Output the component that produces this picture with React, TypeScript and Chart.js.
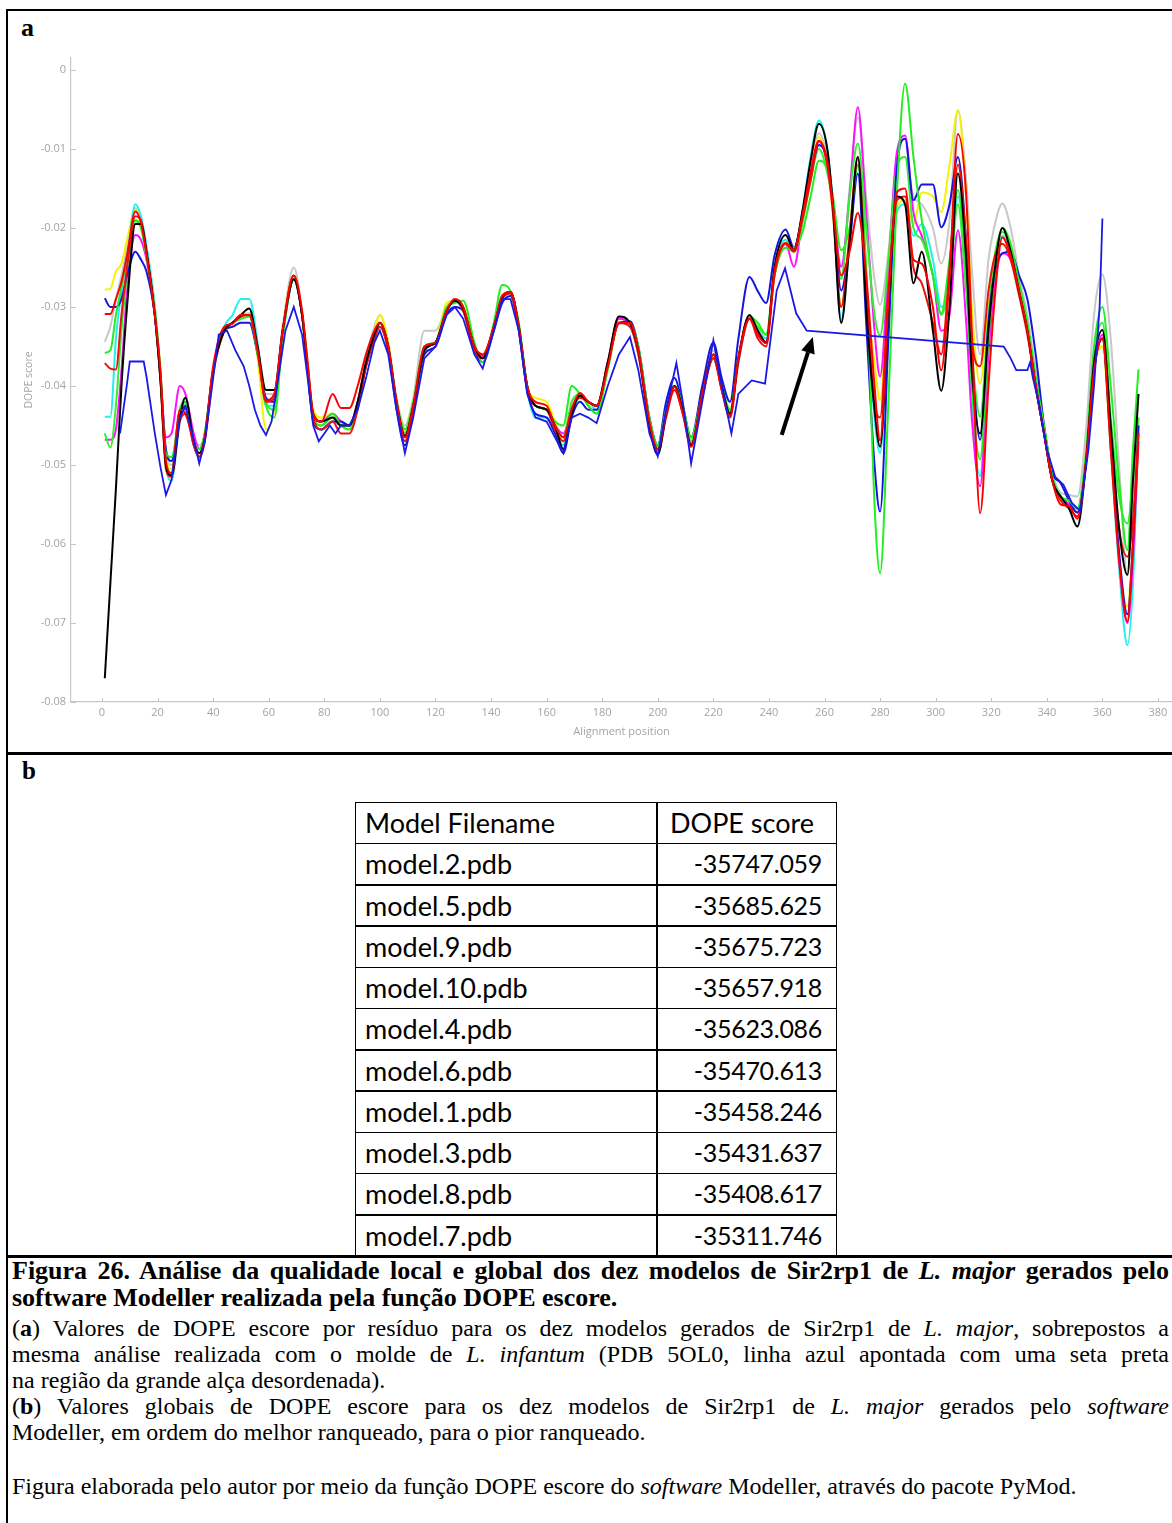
import React, { useEffect, useRef } from "react";
import { Chart, registerables } from "chart.js";

Chart.register(...registerables);

// ---------------- DATA ----------------
const POS = [1,3,5,7,9,12,14,16,19,21,23,25,28,30,33,35,37,40,44,47,50,53,56,59,62,65,69,72,74,76,79,83,86,89,92,95,98,100,103,106,109,112,116,120,124,127,130,134,137,141,144,147,150,153,156,160,163,166,169,172,175,178,182,186,190,193,197,200,203,206,209,212,216,220,223,226,229,233,236,239,242,246,249,252,255,258,261,263,266,269,272,275,278,280,283,286,289,292,295,299,302,305,308,311,313,316,319,321,324,327,330,333,336,339,342,345,348,351,354,357,360,363,366,369,371,373];

const BLACK = [-.077,-.065,-.053,-.040,-.030,-.0195,-.0195,-.023,-.031,-.039,
-.050,-.0513,-.044,-.0415,-.047,-.0485,-.0465,-.038,-.033,-.032,
-.031,-.0302,-.035,-.0405,-.0405,-.033,-.0265,-.031,-.0375,-.0435,
-.0445,-.044,-.045,-.045,-.042,-.037,-.0335,-.032,-.035,-.042,
-.0463,-.0425,-.0355,-.0345,-.0305,-.0292,-.0302,-.035,-.0365,-.0325,
-.0288,-.0281,-.0325,-.040,-.0425,-.043,-.045,-.048,-.0435,-.0412,
-.042,-.0425,-.037,-.0312,-.032,-.0355,-.045,-.0487,-.0435,-.040,
-.043,-.0475,-.041,-.036,-.040,-.0435,-.0365,-.031,-.033,-.0345,
-.025,-.0209,-.0228,-.018,-.0115,-.0068,-.010,-.017,-.032,-.022,
-.011,-.030,-.043,-.0477,-.030,-.016,-.017,-.027,-.023,-.033,
-.0406,-.030,-.0131,-.024,-.038,-.046,-.033,-.026,-.020,-.023,
-.028,-.033,-.040,-.046,-.052,-.054,-.0555,-.0578,-.050,-.037,
-.0329,-.045,-.058,-.0639,-.052,-.041];

const RED = [-.0309,-.0309,-.029,-.0268,-.0235,-.0179,-.0193,-.0232,-.031,-.038,
-.0495,-.051,-.043,-.0435,-.047,-.049,-.0465,-.0375,-.0325,-.0321,
-.031,-.031,-.0355,-.0418,-.041,-.033,-.026,-.0305,-.037,-.0435,
-.0445,-.041,-.0428,-.0428,-.040,-.036,-.033,-.032,-.035,-.042,
-.0465,-.0425,-.035,-.0345,-.0305,-.029,-.030,-.035,-.036,-.0325,
-.0286,-.0281,-.0325,-.040,-.042,-.0425,-.045,-.0465,-.043,-.0409,
-.042,-.0425,-.0375,-.0321,-.032,-.0355,-.0445,-.048,-.0435,-.0401,
-.0435,-.0477,-.041,-.036,-.0405,-.0438,-.0365,-.0315,-.0335,-.0346,
-.0255,-.0219,-.0228,-.0185,-.013,-.009,-.0115,-.017,-.026,-.023,
-.0181,-.026,-.040,-.0469,-.029,-.0155,-.015,-.024,-.0245,-.030,
-.038,-.026,-.0081,-.016,-.033,-.0561,-.040,-.030,-.0212,-.0235,
-.028,-.033,-.040,-.046,-.052,-.055,-.0552,-.0568,-.050,-.038,
-.034,-.048,-.062,-.0698,-.060,-.047];

const GREEN_A = [-.0358,-.0355,-.031,-.0275,-.0235,-.0191,-.020,-.0235,-.0305,-.038,
-.0485,-.049,-.0435,-.042,-.047,-.048,-.046,-.038,-.033,-.032,
-.0315,-.0312,-.036,-.0425,-.044,-.034,-.0265,-.031,-.038,-.044,
-.045,-.0435,-.045,-.0455,-.0425,-.037,-.0335,-.032,-.035,-.042,
-.0455,-.042,-.035,-.0345,-.030,-.0295,-.0292,-.0345,-.037,-.032,
-.0272,-.028,-.032,-.040,-.0425,-.043,-.0445,-.045,-.040,-.041,
-.0425,-.0435,-.038,-.032,-.0321,-.035,-.044,-.0475,-.043,-.040,
-.0425,-.0465,-.041,-.0365,-.040,-.043,-.0365,-.0312,-.032,-.0335,
-.026,-.0225,-.0225,-.0206,-.016,-.0115,-.0125,-.016,-.0228,-.020,
-.012,-.025,-.055,-.0637,-.042,-.016,-.0017,-.011,-.019,-.026,
-.0308,-.024,-.0152,-.026,-.040,-.0493,-.034,-.026,-.020,-.022,
-.027,-.032,-.039,-.045,-.0515,-.054,-.0545,-.0555,-.049,-.035,
-.030,-.040,-.052,-.0608,-.048,-.0379];

const BLUE = [-.0289,-.030,-.030,-.029,-.026,-.023,-.024,-.0255,-.031,-.0385,
-.048,-.0495,-.044,-.0425,-.0475,-.049,-.0465,-.038,-.033,-.0325,
-.032,-.032,-.036,-.0415,-.042,-.0335,-.0265,-.031,-.038,-.0445,
-.0455,-.0445,-.0445,-.045,-.0425,-.0375,-.034,-.0325,-.0355,-.043,
-.0475,-.043,-.036,-.035,-.031,-.030,-.0305,-.0355,-.037,-.033,
-.0295,-.0286,-.033,-.0405,-.0435,-.044,-.046,-.0485,-.044,-.042,
-.043,-.043,-.0375,-.032,-.0318,-.035,-.044,-.0475,-.042,-.039,
-.0425,-.0465,-.040,-.0345,-.039,-.042,-.034,-.0262,-.028,-.0295,
-.0235,-.0202,-.0225,-.0185,-.0135,-.0095,-.0115,-.017,-.0279,-.022,
-.0131,-.032,-.050,-.0559,-.034,-.0125,-.0087,-.0165,-.0145,-.0145,
-.0199,-.017,-.011,-.022,-.036,-.0468,-.032,-.026,-.0232,-.023,
-.026,-.029,-.036,-.045,-.051,-.0523,-.0545,-.056,-.050,-.038,
-.034,-.047,-.061,-.0689,-.060,-.045];

const CYAN = [-.0439,-.0439,-.034,-.028,-.024,-.017,-.0185,-.0222,-.030,-.0385,
-.050,-.052,-.0445,-.042,-.047,-.0485,-.0465,-.038,-.0325,-.031,
-.029,-.029,-.0345,-.0425,-.0425,-.0335,-.0265,-.031,-.038,-.0445,
-.0455,-.0445,-.045,-.045,-.0425,-.0375,-.034,-.032,-.035,-.0425,
-.047,-.043,-.0355,-.0345,-.0305,-.0293,-.0305,-.0355,-.0365,-.033,
-.029,-.0283,-.0325,-.0405,-.044,-.044,-.0455,-.0475,-.0435,-.0415,
-.042,-.043,-.0375,-.032,-.0325,-.036,-.0445,-.048,-.043,-.0405,
-.043,-.047,-.041,-.0365,-.040,-.0435,-.037,-.0315,-.033,-.034,
-.025,-.0215,-.023,-.018,-.011,-.0064,-.010,-.017,-.0317,-.022,
-.012,-.030,-.044,-.0485,-.031,-.018,-.017,-.021,-.0195,-.024,
-.030,-.027,-.016,-.026,-.042,-.0514,-.035,-.027,-.021,-.0235,
-.028,-.033,-.040,-.046,-.052,-.054,-.055,-.0555,-.050,-.038,
-.034,-.048,-.063,-.0728,-.065,-.045];

const MAGENTA = [-.0468,-.0468,-.0455,-.038,-.028,-.0209,-.0215,-.024,-.031,-.039,
-.0465,-.046,-.040,-.041,-.046,-.048,-.046,-.038,-.033,-.032,
-.031,-.031,-.0355,-.042,-.042,-.0335,-.0265,-.031,-.038,-.044,
-.0445,-.0435,-.0445,-.045,-.042,-.037,-.0335,-.032,-.035,-.042,
-.046,-.0425,-.0352,-.0345,-.0305,-.0292,-.0302,-.035,-.0362,-.0325,
-.029,-.0281,-.0325,-.040,-.0425,-.043,-.045,-.046,-.043,-.0412,
-.042,-.0425,-.037,-.0315,-.032,-.0355,-.0445,-.0482,-.0435,-.040,
-.043,-.0473,-.041,-.0365,-.040,-.0435,-.0365,-.0312,-.033,-.0345,
-.026,-.022,-.0249,-.019,-.013,-.009,-.012,-.017,-.0249,-.016,
-.0047,-.018,-.033,-.0388,-.025,-.0105,-.0083,-.018,-.021,-.026,
-.033,-.031,-.0203,-.032,-.044,-.0527,-.036,-.028,-.0232,-.024,
-.028,-.033,-.040,-.046,-.052,-.054,-.055,-.056,-.050,-.038,
-.0335,-.047,-.062,-.070,-.062,-.046];

const YELLOW = [-.0278,-.0277,-.0255,-.0245,-.0215,-.0178,-.019,-.0225,-.030,-.038,
-.049,-.0505,-.0435,-.042,-.047,-.0485,-.0465,-.038,-.033,-.032,
-.031,-.031,-.0365,-.0455,-.043,-.033,-.026,-.031,-.0375,-.043,
-.044,-.0435,-.045,-.0455,-.042,-.037,-.033,-.031,-.0345,-.042,
-.0455,-.042,-.0355,-.0345,-.0295,-.0292,-.030,-.035,-.036,-.0325,
-.029,-.0281,-.0325,-.040,-.0415,-.042,-.0445,-.047,-.043,-.0412,
-.042,-.0425,-.037,-.0315,-.032,-.0355,-.0445,-.048,-.0435,-.040,
-.043,-.047,-.041,-.0365,-.040,-.0435,-.0365,-.0312,-.033,-.0345,
-.0255,-.0218,-.023,-.0185,-.013,-.0085,-.012,-.018,-.030,-.021,
-.012,-.028,-.037,-.0418,-.026,-.0175,-.0165,-.0195,-.0155,-.016,
-.018,-.012,-.0051,-.016,-.030,-.0397,-.029,-.024,-.021,-.024,
-.028,-.033,-.040,-.046,-.052,-.0545,-.055,-.056,-.050,-.038,
-.035,-.048,-.062,-.0679,-.060,-.046];

const GREY = [-.0344,-.0325,-.029,-.026,-.0225,-.0175,-.019,-.0225,-.030,-.038,
-.0485,-.050,-.043,-.0415,-.0465,-.0475,-.046,-.038,-.033,-.032,
-.031,-.0308,-.0355,-.041,-.041,-.0325,-.025,-.0305,-.037,-.0435,
-.0445,-.0435,-.0445,-.045,-.042,-.037,-.0325,-.031,-.0345,-.0415,
-.045,-.0415,-.033,-.033,-.030,-.0292,-.0302,-.035,-.0362,-.0325,
-.029,-.0283,-.0325,-.040,-.0425,-.043,-.0445,-.0465,-.0425,-.041,
-.042,-.0425,-.037,-.0315,-.032,-.0355,-.0445,-.048,-.0435,-.040,
-.043,-.047,-.0405,-.0355,-.040,-.0435,-.0365,-.0312,-.0325,-.034,
-.0255,-.022,-.023,-.018,-.012,-.008,-.011,-.016,-.026,-.015,
-.006,-.016,-.0265,-.0297,-.023,-.012,-.011,-.016,-.017,-.020,
-.0245,-.019,-.0051,-.014,-.025,-.036,-.024,-.020,-.0169,-.020,
-.026,-.031,-.038,-.045,-.051,-.0535,-.0538,-.054,-.046,-.031,
-.0259,-.034,-.050,-.064,-.055,-.044];

const RED_B = [-.0371,-.0378,-.0379,-.031,-.025,-.0185,-.019,-.023,-.031,-.039,
-.0505,-.0515,-.0445,-.0435,-.0475,-.049,-.047,-.0385,-.033,-.032,
-.0312,-.031,-.0355,-.042,-.0415,-.033,-.026,-.031,-.038,-.044,
-.0455,-.0445,-.046,-.046,-.043,-.0375,-.034,-.0325,-.0355,-.0425,
-.047,-.043,-.0355,-.0345,-.0305,-.0292,-.0305,-.0355,-.0365,-.0325,
-.029,-.0283,-.033,-.0405,-.0425,-.043,-.0455,-.047,-.043,-.0415,
-.042,-.0425,-.0375,-.032,-.0325,-.036,-.045,-.0485,-.044,-.0405,
-.0435,-.0475,-.0415,-.0365,-.0405,-.044,-.037,-.0315,-.034,-.035,
-.026,-.022,-.023,-.019,-.014,-.009,-.012,-.018,-.030,-.021,
-.011,-.028,-.042,-.044,-.028,-.0165,-.016,-.025,-.027,-.032,
-.036,-.025,-.012,-.022,-.034,-.0375,-.028,-.024,-.022,-.024,
-.0285,-.0335,-.040,-.046,-.052,-.0545,-.0555,-.0565,-.050,-.038,
-.034,-.046,-.058,-.0616,-.057,-.046];

const GREEN_B = [-.046,-.0478,-.0425,-.033,-.026,-.019,-.0198,-.0235,-.031,-.039,
-.049,-.0495,-.043,-.042,-.047,-.048,-.046,-.038,-.033,-.032,
-.0312,-.031,-.0355,-.042,-.043,-.0335,-.0265,-.031,-.038,-.044,
-.045,-.044,-.045,-.045,-.0425,-.037,-.0335,-.032,-.035,-.042,
-.046,-.0425,-.035,-.0345,-.0305,-.0292,-.030,-.035,-.0365,-.0325,
-.0285,-.0281,-.0325,-.040,-.0425,-.043,-.045,-.0465,-.042,-.041,
-.0425,-.0435,-.0375,-.032,-.032,-.0355,-.0445,-.0478,-.0435,-.040,
-.043,-.047,-.041,-.0365,-.040,-.0435,-.0365,-.0315,-.0325,-.0335,
-.026,-.0225,-.023,-.0195,-.014,-.010,-.013,-.017,-.0265,-.016,
-.0093,-.020,-.031,-.0336,-.024,-.0125,-.011,-.020,-.0215,-.026,
-.031,-.027,-.017,-.028,-.036,-.0439,-.031,-.024,-.0205,-.0225,
-.027,-.032,-.039,-.0455,-.0515,-.054,-.0545,-.0555,-.049,-.036,
-.032,-.044,-.054,-.0574,-.052,-.044];

// Template (PDB 5OL0) – own positions
const TPL_POS = [6.5,9,10,15,16,19,21,23,25,28,30,33,35,37,40,42,45,48,51,53,55,57,59,61,63,66,69,72,74,76,78,80,82,84,86,89,92,95,98,100,103,106,109,112,116,120,124,127,130,134,137,141,144,147,150,153,156,160,163,166,169,172,175,178,182,186,190,193,197,200,203,206.7,209,212,216,220,223,226.5,229,233.8,238.6,242.8,245.8,249.8,253.6,324.5,327,329,333,334,335,337,340,343,346,349,352,355,357,359,360];
const TPL_VAL = [-.046,-.0397,-.0369,-.0369,-.0388,-.046,-.0502,-.0538,-.0519,-.044,-.0426,-.0468,-.0498,-.047,-.039,-.0335,-.033,-.0355,-.0375,-.040,-.043,-.045,-.0462,-.0445,-.040,-.033,-.030,-.0335,-.039,-.045,-.047,-.046,-.045,-.046,-.045,-.045,-.043,-.039,-.0345,-.033,-.036,-.043,-.0485,-.044,-.0365,-.035,-.031,-.030,-.0315,-.036,-.0378,-.033,-.029,-.029,-.033,-.041,-.044,-.0445,-.0465,-.0485,-.044,-.0435,-.044,-.0447,-.040,-.036,-.0338,-.038,-.046,-.0489,-.043,-.0371,-.042,-.0498,-.042,-.0342,-.040,-.046,-.041,-.0393,-.0397,-.0279,-.0251,-.0308,-.033,-.035,-.0365,-.038,-.038,-.037,-.039,-.042,-.048,-.0515,-.0525,-.0548,-.0558,-.048,-.040,-.030,-.0188];

const X_TICK_STEP = 20;
const Y_TICK_STEP = 0.01;
const ARROW_FROM = [244.6, -0.0462];
const ARROW_TO = [255.8, -0.0338];

const TABLE_HEAD = ["Model Filename", "DOPE score"];
const TABLE_FILES = ["model.2.pdb","model.5.pdb","model.9.pdb","model.10.pdb","model.4.pdb","model.6.pdb","model.1.pdb","model.3.pdb","model.8.pdb","model.7.pdb"];
const TABLE_SCORES = ["-35747.059","-35685.625","-35675.723","-35657.918","-35623.086","-35470.613","-35458.246","-35431.637","-35408.617","-35311.746"];

// ---------------- CHART ----------------
const insideTicks = {
  id: "insideTicks",
  beforeDatasetsDraw(chart: any) {
    const { ctx, scales } = chart;
    const x = scales.x, y = scales.y;
    ctx.save();
    ctx.strokeStyle = "#c4c4c4";
    ctx.lineWidth = 1;
    x.ticks.forEach((t: any) => {
      const px = Math.round(x.getPixelForValue(t.value)) + 0.5;
      ctx.beginPath(); ctx.moveTo(px, x.top); ctx.lineTo(px, x.top - 4); ctx.stroke();
    });
    y.ticks.forEach((t: any) => {
      const py = Math.round(y.getPixelForValue(t.value)) + 0.5;
      ctx.beginPath(); ctx.moveTo(y.right, py); ctx.lineTo(y.right + 5, py); ctx.stroke();
    });
    ctx.restore();
  },
};

const arrowPlugin = {
  id: "arrowPlugin",
  afterDatasetsDraw(chart: any) {
    const { ctx, scales } = chart;
    const x0 = scales.x.getPixelForValue(ARROW_FROM[0]);
    const y0 = scales.y.getPixelForValue(ARROW_FROM[1]);
    const x1 = scales.x.getPixelForValue(ARROW_TO[0]);
    const y1 = scales.y.getPixelForValue(ARROW_TO[1]);
    const ang = Math.atan2(y1 - y0, x1 - x0);
    const headLen = 16, headW = 7;
    const bx = x1 - headLen * Math.cos(ang), by = y1 - headLen * Math.sin(ang);
    ctx.save();
    ctx.strokeStyle = "#000"; ctx.fillStyle = "#000"; ctx.lineWidth = 4;
    ctx.beginPath(); ctx.moveTo(x0, y0); ctx.lineTo(bx, by); ctx.stroke();
    ctx.beginPath();
    ctx.moveTo(x1, y1);
    ctx.lineTo(bx + headW * Math.sin(ang), by - headW * Math.cos(ang));
    ctx.lineTo(bx - headW * Math.sin(ang), by + headW * Math.cos(ang));
    ctx.closePath(); ctx.fill();
    ctx.restore();
  },
};

function DopeChart() {
  const ref = useRef<HTMLCanvasElement | null>(null);
  useEffect(() => {
    const canvas = ref.current;
    if (!canvas) return;
    const models = [
      { label: "red 1", color: "#ff0000", values: RED },
      { label: "black", color: "#000000", values: BLACK },
      { label: "red 2", color: "#f01010", values: RED_B },
      { label: "green 1", color: "#22ee22", values: GREEN_A },
      { label: "blue", color: "#1515e0", values: BLUE },
      { label: "green 2", color: "#33ee33", values: GREEN_B },
      { label: "magenta", color: "#ff10ff", values: MAGENTA },
      { label: "cyan", color: "#20f0f0", values: CYAN },
      { label: "yellow", color: "#f4f400", values: YELLOW },
      { label: "grey", color: "#c8c8c8", values: GREY },
    ];
    const datasets: any[] = [
      {
        label: "template 5OL0",
        data: TPL_POS.map((p, i) => ({ x: p, y: TPL_VAL[i] })),
        borderColor: "#1a1ae6",
        borderWidth: 1.8,
        pointRadius: 0,
        tension: 0,
      },
      ...models.map((m) => ({
        label: m.label,
        data: POS.map((p, i) => ({ x: p, y: m.values[i] })),
        borderColor: m.color,
        borderWidth: 2,
        pointRadius: 0,
        cubicInterpolationMode: "monotone",
      })),
    ];
    const tickFont = { family: "'Open Sans', 'DejaVu Sans', sans-serif", size: 11 };
    const chart = new Chart(canvas, {
      type: "line",
      data: { datasets },
      options: {
        animation: false,
        responsive: false,
        maintainAspectRatio: false,
        layout: { padding: { top: 46, right: 0, left: 0, bottom: 0 } },
        plugins: { legend: { display: false }, tooltip: { enabled: false } },
        scales: {
          x: {
            type: "linear",
            min: -11.16,
            max: 385.05,
            grid: { display: false, drawTicks: false },
            border: { display: true, color: "#c8c8c8", width: 1.2 },
            ticks: {
              stepSize: X_TICK_STEP,
              includeBounds: false,
              autoSkip: false,
              maxRotation: 0,
              padding: 4,
              color: "#a4a4a4",
              font: tickFont,
            },
            title: {
              display: true,
              text: "Alignment position",
              color: "#a4a4a4",
              font: { family: "'Open Sans', 'DejaVu Sans', sans-serif", size: 11 },
              padding: { top: 0, bottom: 14 },
            },
            afterFit: (s: any) => { s.height = 50; },
          },
          y: {
            type: "linear",
            min: -0.08,
            max: 0.001519,
            grid: { display: false, drawTicks: false },
            border: { display: true, color: "#c8c8c8", width: 1.2 },
            ticks: {
              stepSize: Y_TICK_STEP,
              includeBounds: false,
              padding: 5,
              color: "#a4a4a4",
              font: tickFont,
              callback: (v: any) => String(Math.round(Number(v) * 100) / 100),
            },
            title: {
              display: true,
              text: "DOPE score",
              color: "#a4a4a4",
              font: { family: "'Open Sans', 'DejaVu Sans', sans-serif", size: 10.5 },
              padding: { top: 14, bottom: 0 },
            },
            afterFit: (s: any) => { s.width = 62; },
          },
        },
      } as any,
      plugins: [insideTicks, arrowPlugin],
    });
    return () => chart.destroy();
  }, []);
  return (
    <canvas
      ref={ref}
      width={1163}
      height={740}
      style={{ position: "absolute", left: 9, top: 12, width: 1163, height: 740 }}
    />
  );
}

// ---------------- PAGE ----------------
const ROW_H = 41.27;
const serif = "'Liberation Serif', 'Times New Roman', serif";
const J: React.CSSProperties = { textAlign: "justify", textAlignLast: "justify" } as any;

function DopeTable() {
  const rows = [[TABLE_HEAD[0], TABLE_HEAD[1]], ...TABLE_FILES.map((f, i) => [f, TABLE_SCORES[i]])];
  return (
    <div
      style={{
        position: "absolute", left: 355, top: 802, width: 482, height: ROW_H * 11,
        border: "1.5px solid #000", boxSizing: "border-box",
        fontFamily: "Lato, 'Open Sans', sans-serif", fontSize: 27, color: "#000",
      }}
    >
      <div style={{ position: "absolute", left: 300, top: 0, width: 1.5, height: "100%", background: "#000" }} />
      {rows.map((r, i) => (
        <React.Fragment key={i}>
          {i > 0 && (
            <div style={{ position: "absolute", left: 0, right: 0, top: i * ROW_H - 1.5, height: 1.5, background: "#000" }} />
          )}
          <div style={{ position: "absolute", left: 9, top: i * ROW_H - 1, height: ROW_H, lineHeight: ROW_H + "px", whiteSpace: "nowrap" }}>
            {r[0]}
          </div>
          <div
            style={{
              position: "absolute",
              top: i * ROW_H - 1,
              height: ROW_H,
              lineHeight: ROW_H + "px",
              whiteSpace: "nowrap",
              ...(i === 0 ? { left: 314 } : { right: 14, fontSize: 25, letterSpacing: "-0.3px" }),
            }}
          >
            {r[1]}
          </div>
        </React.Fragment>
      ))}
    </div>
  );
}

export default function App() {
  return (
    <div
      style={{
        position: "absolute", left: 0, top: 0, width: 1172, height: 1523,
        overflow: "hidden", background: "#fff", fontFamily: serif, color: "#000",
      }}
    >
      {/* outer frame */}
      <div style={{ position: "absolute", left: 6, top: 9, width: 1200, height: 1600, border: "2px solid #000" }} />
      <div style={{ position: "absolute", left: 6, top: 752, width: 1200, height: 3, background: "#000" }} />
      <div style={{ position: "absolute", left: 6, top: 1255, width: 1200, height: 3, background: "#000" }} />

      {/* panel labels */}
      <div style={{ position: "absolute", left: 21, top: 15, fontSize: 26, lineHeight: "26px", fontWeight: "bold" }}>a</div>
      <div style={{ position: "absolute", left: 22, top: 758, fontSize: 25, lineHeight: "25px", fontWeight: "bold" }}>b</div>

      <DopeChart />
      <DopeTable />

      {/* caption title */}
      <div style={{ position: "absolute", left: 12, top: 1257, width: 1157, fontSize: 26, lineHeight: "27px", fontWeight: "bold" }}>
        <div style={J}>
          Figura 26. Análise da qualidade local e global dos dez modelos de Sir2rp1 de <i>L. major</i> gerados pelo
        </div>
        <div>software Modeller realizada pela função DOPE escore.</div>
      </div>

      {/* caption body */}
      <div style={{ position: "absolute", left: 12, top: 1315, width: 1157, fontSize: 24, lineHeight: "26px" }}>
        <div style={J}>
          (<b>a</b>) Valores de DOPE escore por resíduo para os dez modelos gerados de Sir2rp1 de <i>L. major</i>, sobrepostos a
        </div>
        <div style={J}>
          mesma análise realizada com o molde de <i>L. infantum</i> (PDB 5OL0, linha azul apontada com uma seta preta
        </div>
        <div>na região da grande alça desordenada).</div>
        <div style={J}>
          (<b>b</b>) Valores globais de DOPE escore para os dez modelos de Sir2rp1 de <i>L. major</i> gerados pelo <i>software</i>
        </div>
        <div>Modeller, em ordem do melhor ranqueado, para o pior ranqueado.</div>
        <div style={{ height: 28 }} />
        <div style={{ whiteSpace: "nowrap" }}>
          Figura elaborada pelo autor por meio da função DOPE escore do <i>software</i> Modeller, através do pacote PyMod.
        </div>
      </div>
    </div>
  );
}
